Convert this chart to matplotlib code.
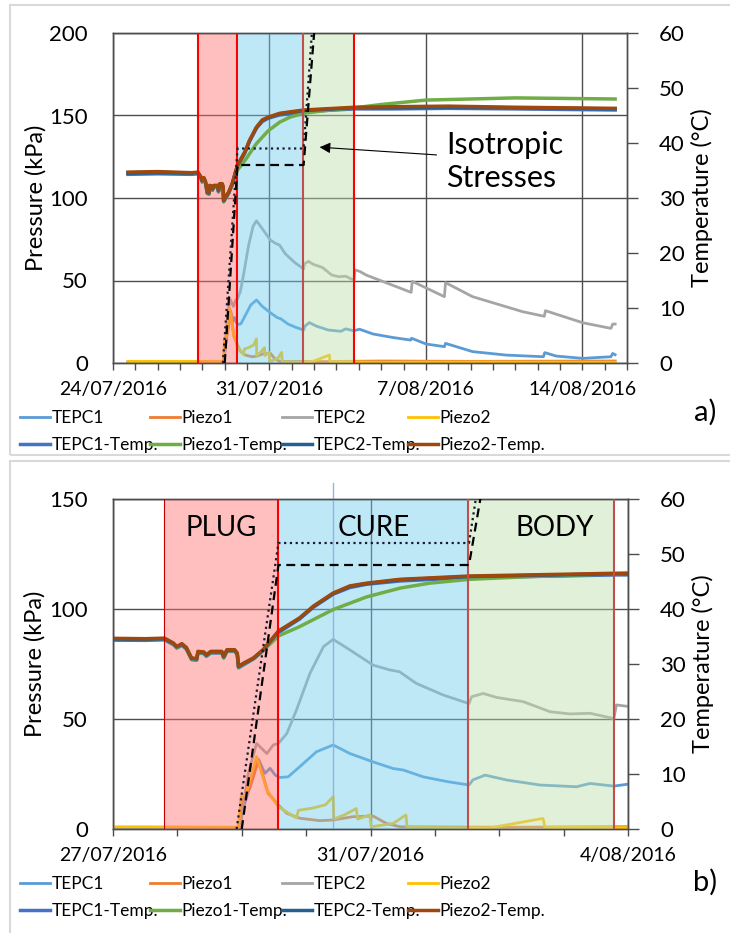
import datetime as dt
import numpy as np
import matplotlib as mpl
mpl.use('Agg')
import matplotlib.pyplot as plt
import matplotlib.dates as mdates
import matplotlib.ticker as mtick
from matplotlib.patches import Rectangle

plt.rcParams['font.family'] = ['Lato', 'DejaVu Sans']

## -- time origin: every *_day list is in days after 24/07/2016 00:00
t0 = dt.datetime(2016, 7, 24)

## -- pressures (kPa), left axis
tepc1_day = [0.67, 4.95, 5.05, 5.26, 5.36, 5.44, 5.52, 5.59, 5.72, 5.90, 6.16, 6.42, 6.68, 7.04, 7.35,
             7.51, 7.82, 8.20, 8.53, 8.59, 8.78, 9.11, 9.63, 10.20, 10.41, 10.78, 11.03, 11.63, 12.50,
             13.32, 13.36, 14.01, 14.83, 14.88, 16.09, 17.59, 19.26, 19.32, 19.83, 21.02, 22.28, 22.36, 22.47]
tepc1_kpa = [0.3, 0.3, 12.0, 31.7, 25.3, 27.6, 24.5, 23.4, 23.7, 28.3, 35.1, 38.2, 34.3, 30.5, 27.5,
             26.8, 23.7, 21.5, 20.0, 22.3, 24.5, 22.3, 20.0, 19.2, 20.7, 19.5, 20.5, 17.6, 15.5,
             13.9, 15.0, 11.5, 9.9, 11.9, 6.9, 4.8, 3.8, 6.3, 4.2, 2.8, 3.8, 5.8, 5.0]

piezo1_day = [0.67, 4.95, 5.02, 5.13, 5.26, 5.41, 5.57, 5.70, 5.90, 6.21, 6.42, 6.73, 7.04, 7.25, 7.46,
              9.0, 12.0, 16.0, 22.47]
piezo1_kpa = [0.6, 0.6, 13.0, 19.0, 31.4, 16.2, 10.9, 7.1, 4.9, 3.8, 4.1, 5.6, 5.9, 2.5, 1.0,
              0.8, 1.2, 1.0, 1.2]

tepc2_day = [0.67, 4.97, 5.10, 5.23, 5.39, 5.49, 5.57, 5.70, 5.85, 6.06, 6.27, 6.42, 6.68, 7.04, 7.30,
             7.45, 7.71, 8.13, 8.53, 8.57, 8.75, 8.96, 9.37, 9.79, 10.10, 10.41, 10.78, 10.82, 11.03,
             11.33, 13.34, 13.39, 14.83, 14.88, 16.09, 18.33, 19.30, 19.35, 21.02, 22.28, 22.36, 22.47]
tepc2_kpa = [0.2, 0.2, 25.0, 38.9, 34.3, 38.2, 38.9, 43.4, 54.1, 70.8, 82.9, 86.2, 81.4, 74.5, 72.3,
             71.5, 66.2, 60.9, 57.0, 60.1, 61.6, 59.8, 57.9, 53.3, 52.3, 52.6, 50.2, 56.4, 55.6,
             53.3, 42.8, 49.5, 40.2, 48.7, 40.2, 31.1, 28.3, 31.7, 24.4, 21.0, 23.6, 23.6]

piezo2_day = [0.67, 3.50, 4.95, 4.99, 5.07, 5.23, 5.39, 5.57, 5.85, 5.88, 6.10, 6.30, 6.42, 6.43, 6.60,
              6.78, 6.80, 6.99, 7.01, 7.35, 7.55, 7.57, 8.85, 9.68, 9.71, 12.0, 16.0, 22.47]
piezo2_kpa = [1.0, 1.0, 0.8, 14.7, 16.2, 32.9, 17.7, 10.1, 5.0, 8.5, 9.5, 11.0, 14.7, 4.5, 6.5,
              9.3, 4.5, 6.4, 1.0, 2.5, 6.4, 0.8, 0.5, 4.8, 0.8, 0.5, 0.6, 0.5]

## -- temperatures (degC), right axis
temp_day = [0.67, 2.0, 3.5, 3.80, 3.94, 3.99, 4.07, 4.14, 4.22, 4.30, 4.32, 4.41, 4.45, 4.52, 4.69,
            4.72, 4.77, 4.89, 4.93, 4.95, 5.02, 5.18, 5.33, 5.57, 5.90, 6.11, 6.42, 6.68, 6.94, 7.46,
            8.54, 10.82, 12.5, 15.0, 18.0, 22.47]
tepc1_temp = [34.3, 34.4, 34.3, 34.4, 33.5, 32.9, 33.4, 32.7, 30.8, 30.7, 32.0, 31.9, 31.4, 32.0, 32.0,
              31.1, 32.3, 32.3, 31.7, 29.3, 29.8, 30.9, 32.4, 35.7, 38.2, 40.3, 42.7, 43.9, 44.5, 45.1,
              45.7, 46.2, 46.2, 46.3, 46.2, 46.0]
tepc2_temp = [34.5, 34.6, 34.5, 34.6, 33.7, 33.1, 33.6, 32.9, 31.0, 30.9, 32.2, 32.1, 31.6, 32.2, 32.2,
              31.3, 32.5, 32.5, 31.9, 29.5, 30.0, 31.0, 32.5, 35.9, 38.3, 40.4, 42.8, 44.1, 44.6, 45.3,
              45.9, 46.4, 46.4, 46.5, 46.4, 46.2]
piezo2_temp = [34.7, 34.8, 34.6, 34.7, 33.8, 33.2, 33.7, 33.0, 31.1, 31.0, 32.3, 32.2, 31.7, 32.3, 32.3,
               31.4, 32.6, 32.6, 32.0, 29.6, 30.1, 31.1, 32.6, 36.0, 38.4, 40.5, 42.9, 44.2, 44.7, 45.4,
               46.0, 46.5, 46.6, 46.7, 46.5, 46.3]
piezo1_temp_day = [0.67, 2.0, 3.5, 3.80, 3.94, 3.99, 4.07, 4.14, 4.22, 4.30, 4.32, 4.41, 4.45, 4.52, 4.69,
                   4.72, 4.77, 4.89, 4.93, 4.95, 5.02, 5.18, 5.33, 5.57, 5.90, 6.42, 6.94, 7.46, 7.92,
                   8.54, 9.5, 10.82, 12.0, 14.0, 18.0, 22.47]
piezo1_temp = [34.6, 34.7, 34.5, 34.6, 33.6, 33.0, 33.5, 32.8, 30.9, 30.8, 32.1, 32.0, 31.5, 32.1, 32.1,
               31.2, 32.4, 32.4, 31.8, 29.4, 29.9, 31.0, 32.4, 35.1, 36.8, 39.9, 42.2, 43.8, 44.7,
               45.4, 45.9, 46.4, 47.0, 47.8, 48.2, 48.0]

## -- stage boundaries (days), names and where the names sit
stage_day = [3.79, 5.57, 8.52, 10.79]
stage_name = ['PLUG', 'CURE', 'BODY']
stage_label_day = [4.68, 7.05, 9.86]
## -- applied isotropic stress paths (kPa)
iso_dash_day = [5.00, 5.57, 8.53, 9.00]
iso_dash_kpa = [0, 120, 120, 200]
iso_dot_day = [4.92, 5.57, 8.53, 8.90]
iso_dot_kpa = [0, 130, 130, 200]
## -- time of the TEPC2 peak, marked in panel b
peak_day = 6.41

p_names = ['TEPC1', 'Piezo1', 'TEPC2', 'Piezo2']
t_names = ['TEPC1-Temp.', 'Piezo1-Temp.', 'TEPC2-Temp.', 'Piezo2-Temp.']
p_cols = ['#5B9BD5', '#ED7D31', '#A5A5A5', '#FFC000']
t_cols = ['#4472C4', '#70AD47', '#255E91', '#9E480E']
stage_cols = ['#FF7171', '#73CCEF', '#BEDEAA']
grid_col = '#4D4D4D'

W, H = 730, 933


def num(days):
  return mdates.date2num(t0) + np.asarray(days, dtype=float)


def date_label(v, pos):
  d = mdates.num2date(v)
  return '%d/%02d/%d' % (d.day, d.month, d.year)


def px(x, y):
  ## -- figure pixels (from top-left) to figure fraction
  return x / W, 1 - y / H


def draw_panel(fig, box, xdays, ymax, major_days, vcols, vlws, tag, frame, leg_top, tag_y, panel_b=False):
  l, t, r, b = box
  ax1 = fig.add_axes([l / W, 1 - b / H, (r - l) / W, (b - t) / H])
  ax2 = ax1.twinx()
  ax2.patch.set_visible(False)
  #
  ## -- pressure series
  hp = []
  for dd, vv, c in zip([tepc1_day, piezo1_day, tepc2_day, piezo2_day],
                       [tepc1_kpa, piezo1_kpa, tepc2_kpa, piezo2_kpa], p_cols):
    hp += ax1.plot(num(dd), vv, color=c, lw=2.0, zorder=2)
  ax1.grid(True, which='major', color=grid_col, lw=1.0, zorder=0)
  ax1.set_axisbelow(True)
  #
  ## -- stage shading over the pressure lines
  for i in range(3):
    ax2.axvspan(num(stage_day[i]), num(stage_day[i + 1]), color=stage_cols[i], alpha=0.45, lw=0, zorder=1)
  if panel_b:
    ax2.axvline(num(peak_day), ymax=1.05, color='#8DB4E2', lw=1.0, clip_on=False, zorder=1.5)
  #
  ## -- temperature series
  ht = []
  for dd, vv, c in zip([temp_day, piezo1_temp_day, temp_day, temp_day],
                       [tepc1_temp, piezo1_temp, tepc2_temp, piezo2_temp], t_cols):
    ht += ax2.plot(num(dd), vv, color=c, lw=2.5, zorder=2)
  #
  ## -- stage boundaries
  for d, c, w in zip(stage_day, vcols, vlws):
    ax2.axvline(num(d), color=c, lw=w, zorder=3)
  #
  ## -- isotropic stress paths, in kPa
  ax2.plot(num(iso_dash_day), iso_dash_kpa, color='k', ls=(0, (4, 2.5)), lw=1.6,
           transform=ax1.transData, zorder=4)
  ax2.plot(num(iso_dot_day), iso_dot_kpa, color='#1A1A2E', ls=(0, (1, 1.6)), lw=1.6,
           transform=ax1.transData, zorder=4)
  #
  ## -- axes limits and ticks
  ax1.set_xlim(num(xdays[0]), num(xdays[1]))
  ax1.set_ylim(0, ymax)
  ax2.set_ylim(0, 60)
  ax1.yaxis.set_major_locator(mtick.MultipleLocator(50))
  ax2.yaxis.set_major_locator(mtick.MultipleLocator(10))
  ax1.xaxis.set_major_locator(mtick.FixedLocator(num(major_days)))
  ax1.xaxis.set_minor_locator(mdates.DayLocator())
  ax1.xaxis.set_major_formatter(mtick.FuncFormatter(date_label))
  ax1.tick_params(axis='x', which='both', direction='out', length=5, width=1, color=grid_col,
                  labelsize=14, pad=8)
  ax1.tick_params(axis='y', length=0, labelsize=16, pad=18)
  ax2.tick_params(axis='y', direction='out', length=8, width=1, color=grid_col, labelsize=16, pad=15)
  for ax in (ax1, ax2):
    for s in ax.spines.values():
      s.set_color(grid_col)
      s.set_linewidth(1.0)
  ax1.set_ylabel('Pressure (kPa)', fontsize=17)
  ax2.set_ylabel('Temperature (°C)', fontsize=17)
  ax1.yaxis.set_label_coords(-0.13, 0.5)
  ax2.yaxis.set_label_coords(1.125, 0.5)
  #
  ## -- panel text
  if panel_b:
    for dd, name in zip(stage_label_day, stage_name):
      ax2.text(num(dd), 137, name, fontsize=20, ha='center', va='center',
               transform=ax1.transData, zorder=5)
  else:
    ax2.text(num(14.9), 122, 'Isotropic\nStresses', fontsize=22, ha='left', va='center',
             linespacing=1.2, transform=ax1.transData, zorder=5)
    ax2.annotate('', xy=(num(9.12), 130.9), xytext=(num(14.6), 126),
                 xycoords=ax1.transData, textcoords=ax1.transData,
                 arrowprops=dict(arrowstyle='-|>', color='k', lw=0.8, mutation_scale=16), zorder=5)
  #
  ## -- legend, one column per sensor
  for i, x in enumerate([20, 150, 282, 408]):
    fig.legend(handles=[hp[i], ht[i]], labels=[p_names[i], t_names[i]], loc='upper left',
               bbox_to_anchor=px(x, leg_top), frameon=False, fontsize=12.5, handlelength=1.7,
               handletextpad=0.1, borderpad=0, borderaxespad=0, labelspacing=0.65)
  fig.text(*px(705, tag_y), tag, fontsize=21, ha='center', va='center')
  ## -- chart-area frame
  fx0, fy0, fx1, fy1 = frame
  fig.add_artist(Rectangle(px(fx0, fy1), (fx1 - fx0) / W, (fy1 - fy0) / H,
                           transform=fig.transFigure, fill=False, ec='#D9D9D9', lw=1.5))
  return ax1, ax2


fig = plt.figure(figsize=(W / 100, H / 100), dpi=100)
fig.patch.set_facecolor('white')

## -- panel a: whole test
draw_panel(fig, (113, 33, 627, 363), (0, 23), 200, [0, 7, 14, 21],
           ['#FF0000', '#FF0000', '#C0504D', '#FF0000'], [1.5, 1.5, 1.5, 1.5],
           'a)', (10, 5, 740, 455), 410, 412)
## -- panel b: zoom on plug / cure / body
draw_panel(fig, (113, 499, 628, 829), (3, 11), 150, [3, 7, 11],
           ['#C00000', '#FF0000', '#C0504D', '#C0504D'], [0.8, 1.5, 1.5, 1.5],
           'b)', (10, 461, 740, 940), 876, 882, panel_b=True)

fig.savefig('out.png', dpi=100)
